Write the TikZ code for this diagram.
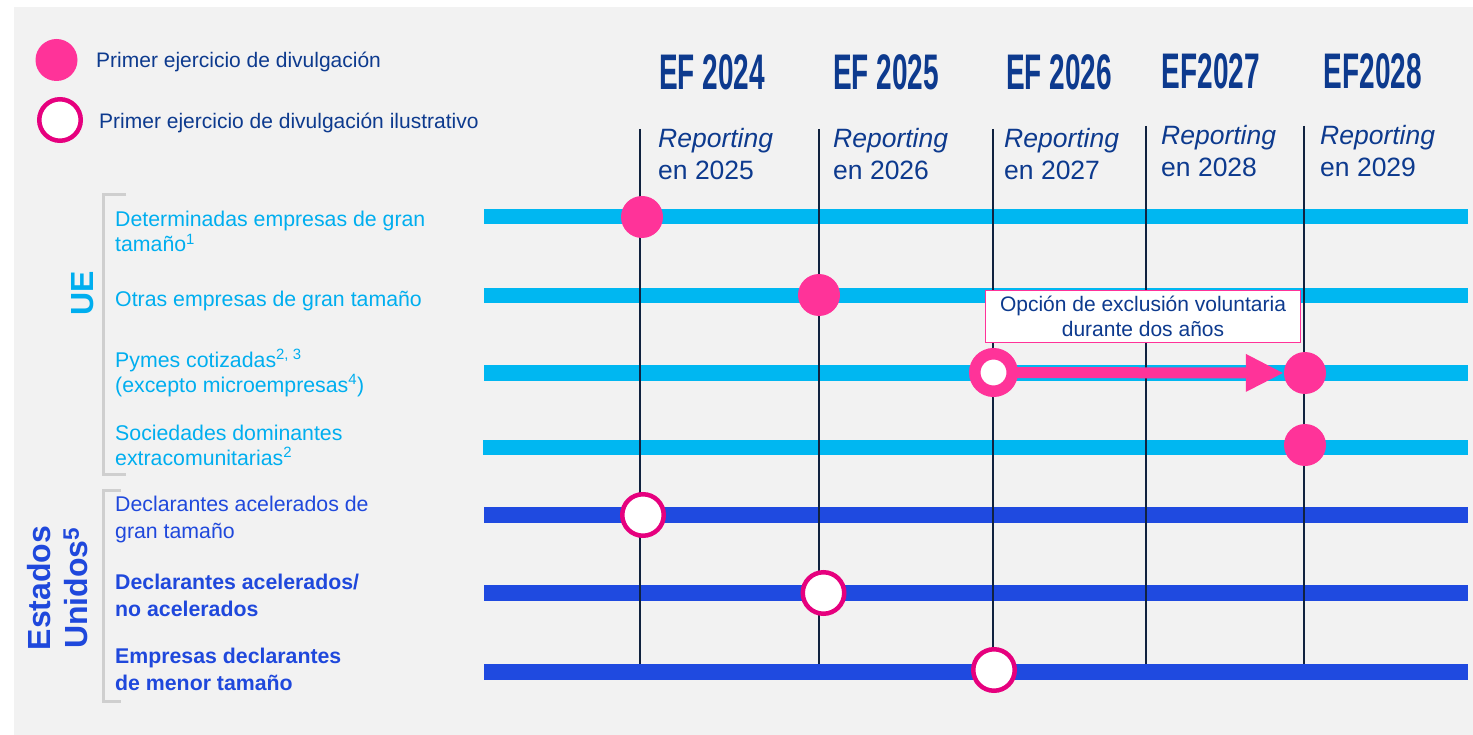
\documentclass[tikz,border=0pt]{standalone}
\usepackage{fontspec}
\setmainfont{Liberation Sans}
\usetikzlibrary{arrows.meta}
\definecolor{bgc}{HTML}{F2F2F2}
\definecolor{eublue}{HTML}{00B7F1}
\definecolor{eutext}{HTML}{00AEEF}
\definecolor{usblue}{HTML}{1F4AE0}
\definecolor{ustext}{HTML}{1F48DC}
\definecolor{navy}{HTML}{10223F}
\definecolor{dkblue}{HTML}{0D3A8E}
\definecolor{hotpink}{HTML}{FF3399}
\definecolor{magen}{HTML}{E6007E}
\definecolor{brk}{HTML}{CFCFCF}
\begin{document}
\begin{tikzpicture}[x=1pt,y=-1pt,
  ebar/.style={line width=15pt,color=eublue},
  ubar/.style={line width=16pt,color=usblue},
  vline/.style={line width=2.7pt,color=navy},
  fdot/.style={circle,fill=hotpink,minimum size=42pt,inner sep=0pt},
  odot/.style={circle,fill=white,draw=magen,line width=4.5pt,minimum size=41.5pt,inner sep=0pt},
  ring/.style={circle,fill=white,draw=hotpink,line width=11.5pt,minimum size=37.5pt,inner sep=0pt},
  bracket/.style={draw=brk,line width=3pt},
  hdr/.style={font=\fontsize{50}{50}\selectfont\bfseries,text=dkblue,inner sep=0pt},
  rep/.style={font=\fontsize{26.5}{33}\selectfont,text=dkblue,inner sep=0pt,anchor=base west},
  leg/.style={font=\fontsize{21}{25}\selectfont,text=dkblue,inner sep=0pt,anchor=base west},
  eulab/.style={font=\fontsize{21.3}{25}\selectfont,text=eutext,inner sep=0pt,anchor=base west,align=left},
  uslab/.style={font=\fontsize{21.3}{26.5}\selectfont,text=ustext,inner sep=0pt,anchor=base west,align=left},
  grp/.style={font=\fontsize{32}{37}\selectfont\bfseries,inner sep=0pt,rotate=90,align=center},
  callout/.style={rectangle,draw=hotpink,line width=1.8pt,fill=white,minimum width=315pt,minimum height=52pt,
    inner sep=0pt,align=center,font=\fontsize{21}{25.5}\selectfont,text=dkblue}
]
\useasboundingbox (0,0) rectangle (1473,735);
\fill[white] (0,0) rectangle (1473,735);
\fill[bgc] (14,7) rectangle (1473,735);

% legend
\node[fdot] (lg1) at (56.5,60) {};
\node[leg] (lgt1) at (96,68) {Primer ejercicio de divulgación};
\node[odot] (lg2) at (60,120) {};
\node[leg] (lgt2) at (99,129) {Primer ejercicio de divulgación ilustrativo};

% headers
\node[hdr] (h1) at (712,72) {\scalebox{0.56}[1]{EF 2024}};
\node[hdr] (h2) at (886,72) {\scalebox{0.56}[1]{EF 2025}};
\node[hdr] (h3) at (1059,72) {\scalebox{0.56}[1]{EF 2026}};
\node[hdr] (h4) at (1211,71) {\scalebox{0.56}[1]{EF2027}};
\node[hdr] (h5) at (1373,71) {\scalebox{0.56}[1]{EF2028}};

\node[rep] (r1a) at (658,148) {\itshape Reporting};
\node[rep] (r1b) at (658,180) {en 2025};
\node[rep] (r2a) at (833,148) {\itshape Reporting};
\node[rep] (r2b) at (833,180) {en 2026};
\node[rep] (r3a) at (1004,148) {\itshape Reporting};
\node[rep] (r3b) at (1004,180) {en 2027};
\node[rep] (r4a) at (1161,145) {\itshape Reporting};
\node[rep] (r4b) at (1161,177) {en 2028};
\node[rep] (r5a) at (1320,145) {\itshape Reporting};
\node[rep] (r5b) at (1320,177) {en 2029};

% bars
\coordinate (b1s) at (484,216.5); \coordinate (b1e) at (1468,216.5);
\coordinate (b2s) at (484,296);   \coordinate (b2e) at (1468,296);
\coordinate (b3s) at (484,373);   \coordinate (b3e) at (1468,373);
\coordinate (b4s) at (483,447);   \coordinate (b4e) at (1468,447);
\coordinate (b5s) at (484,515);   \coordinate (b5e) at (1468,515);
\coordinate (b6s) at (484,593);   \coordinate (b6e) at (1468,593);
\coordinate (b7s) at (484,671.5); \coordinate (b7e) at (1468,671.5);
\draw[ebar] (b1s) -- (b1e);
\draw[ebar] (b2s) -- (b2e);
\draw[ebar] (b3s) -- (b3e);
\draw[ebar] (b4s) -- (b4e);
\draw[ubar] (b5s) -- (b5e);
\draw[ubar] (b6s) -- (b6e);
\draw[ubar] (b7s) -- (b7e);

% vertical lines
\coordinate (v1t) at (640,129);  \coordinate (v1b) at (640,663.5);
\coordinate (v2t) at (819,129);  \coordinate (v2b) at (819,663.5);
\coordinate (v3t) at (993,129);  \coordinate (v3b) at (993,663.5);
\coordinate (v4t) at (1146,126); \coordinate (v4b) at (1146,663.5);
\coordinate (v5t) at (1304,126); \coordinate (v5b) at (1304,663.5);
\draw[vline] (v1t) -- (v1b);
\draw[vline] (v2t) -- (v2b);
\draw[vline] (v3t) -- (v3b);
\draw[vline] (v4t) -- (v4b);
\draw[vline] (v5t) -- (v5b);

% callout
\node[callout] (co) at (1143,316.5) {Opción de exclusión voluntaria\\durante dos años};

% markers
\node[fdot] (p1) at (642,217) {};
\node[fdot] (p2) at (819,295) {};
\node[fdot] (p3) at (1305,373) {};
\node[fdot] (p4) at (1305,445) {};
\coordinate (rc) at (993.5,372.5);
\draw[hotpink,line width=11pt,-{Triangle[length=38pt,width=35pt]}] (rc) -- (p3.west);
\node[ring] (rg) at (rc) {};
\node[odot] (o1) at (643,515) {};
\node[odot] (o2) at (823.5,593) {};
\node[odot] (o3) at (994,670) {};

% brackets
\draw[bracket] (126,195) -- (103,195) -- (103,474) -- (126,474);
\draw[bracket] (121,490) -- (103,490) -- (103,701) -- (121,701);

% group labels
\node[grp,text=eutext] (ue) at (83,293) {UE};
\node[grp,text=ustext] (us) at (58,588) {Estados\\Unidos\textsuperscript{5}};

% row labels (base anchor = last line's baseline)
\node[eulab] (l1) at (115,252) {Determinadas empresas de gran\\tamaño\textsuperscript{1}};
\node[eulab] (l2) at (115,307) {Otras empresas de gran tamaño};
\node[eulab] (l3) at (115,392) {Pymes cotizadas\textsuperscript{2, 3}\\(excepto microempresas\textsuperscript{4})};
\node[eulab] (l4) at (115,465) {Sociedades dominantes\\extracomunitarias\textsuperscript{2}};
\node[uslab] (u1) at (115,538) {Declarantes acelerados de\\gran tamaño};
\node[uslab,font=\fontsize{21.3}{26.5}\selectfont\bfseries] (u2) at (115,616) {Declarantes acelerados/\\no acelerados};
\node[uslab,font=\fontsize{21.3}{26.5}\selectfont\bfseries] (u3) at (115,690) {Empresas declarantes\\de menor tamaño};
\end{tikzpicture}
\end{document}
